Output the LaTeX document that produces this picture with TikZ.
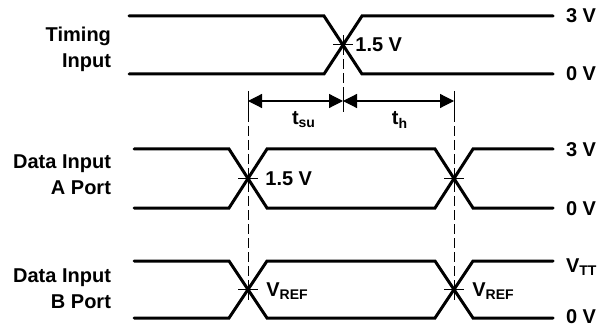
\documentclass[tikz,border=0pt]{standalone}
\usepackage{fontspec}
\setmainfont{Liberation Sans}
\usepackage{tkz-euclide}
\usetikzlibrary{arrows.meta}

\begin{document}
\begin{tikzpicture}[x=0.5pt,y=-0.5pt,font=\fontsize{10}{13}\selectfont\bfseries]
    \useasboundingbox (0,0) rectangle (600,326);
    % timing input
    \tkzDefPoints{129/16/T1,324/16/T2,362/74/T3,553/74/T4}
    \tkzDefPoints{129/74/T5,324/74/T6,362/16/T7,553/16/T8}
    \tkzDefPoints{343/45/X0}
    \tkzDrawPolySeg[line width=1.5pt](T1,T2,T3,T4)
    \tkzDrawPolySeg[line width=1.5pt](T5,T6,T7,T8)
    % data input A port
    \tkzDefPoints{134/149/A1,229/149/A2,267/208/A3,435/208/A4,473/149/A5,553/149/A6}
    \tkzDefPoints{134/208/A7,229/208/A8,267/149/A9,435/149/A10,473/208/A11,553/208/A12}
    \tkzDefPoints{248/178.5/XA1,454/178.5/XA2}
    \tkzDrawPolySeg[line width=1.5pt](A1,A2,A3,A4,A5,A6)
    \tkzDrawPolySeg[line width=1.5pt](A7,A8,A9,A10,A11,A12)
    % data input B port
    \tkzDefPoints{134/261/B1,229/261/B2,267/318/B3,435/318/B4,473/261/B5,553/261/B6}
    \tkzDefPoints{134/318/B7,229/318/B8,267/261/B9,435/261/B10,473/318/B11,553/318/B12}
    \tkzDefPoints{248/289.5/XB1,454/289.5/XB2}
    \tkzDrawPolySeg[line width=1.5pt](B1,B2,B3,B4,B5,B6)
    \tkzDrawPolySeg[line width=1.5pt](B7,B8,B9,B10,B11,B12)
    % setup and hold
    \tkzDefPoints{248/101/D1,343/101/D2,454/101/D3}
    \tkzDrawSegment[<->, >={Triangle[length=7pt,width=7pt]}, line width=0.6pt](D1,D2)
    \tkzDrawSegment[<->, >={Triangle[length=7pt,width=7pt]}, line width=0.6pt](D2,D3)
    \foreach \p in {D1,D2,D3}
        \draw[line width=0.5pt] ([yshift=5pt]\p) -- ([yshift=-5.5pt]\p);
    \draw[line width=0.5pt, dash pattern=on 5pt off 2pt] (X0) -- ([yshift=5pt]D2);
    \draw[line width=0.5pt, dash pattern=on 5pt off 2pt] ([yshift=-5.5pt]D1) -- (XB1);
    \draw[line width=0.5pt, dash pattern=on 5pt off 2pt] ([yshift=-5.5pt]D3) -- (XB2);
    \foreach \p in {X0,XA1,XA2,XB1,XB2}
        \draw[line width=0.5pt] ([xshift=-5pt]\p) -- ([xshift=5pt]\p)
            ([yshift=-5pt]\p) -- ([yshift=5pt]\p);
    % labels
    \node (tin) [anchor=base east, align=right] at (118,68) {Timing\\Input};
    \node (ain) [anchor=base east, align=right] at (118,194) {Data Input\\A Port};
    \node (bin) [anchor=base east, align=right] at (118,308) {Data Input\\B Port};
    \node (thi) [anchor=base west] at (559,23) {3 V};
    \node (tlo) [anchor=base west] at (559,81) {0 V};
    \node (ahi) [anchor=base west] at (559,156) {3 V};
    \node (alo) [anchor=base west] at (559,215) {0 V};
    \node (bhi) [anchor=base west] at (559,272) {V\textsubscript{TT}};
    \node (blo) [anchor=base west] at (559,323) {0 V};
    \node (tth) [anchor=base west, inner sep=0pt] at (355,52) {1.5 V};
    \node (ath) [anchor=base west, inner sep=0pt] at (265,185) {1.5 V};
    \node (bth1) [anchor=base west, inner sep=0pt] at (266,296) {V\textsubscript{REF}};
    \node (bth2) [anchor=base west, inner sep=0pt] at (472,296) {V\textsubscript{REF}};
    \node (tsu) [anchor=base] at (304,125) {t\textsubscript{su}};
    \node (th) [anchor=base] at (400,125) {t\textsubscript{h}};
\end{tikzpicture}
\end{document}
